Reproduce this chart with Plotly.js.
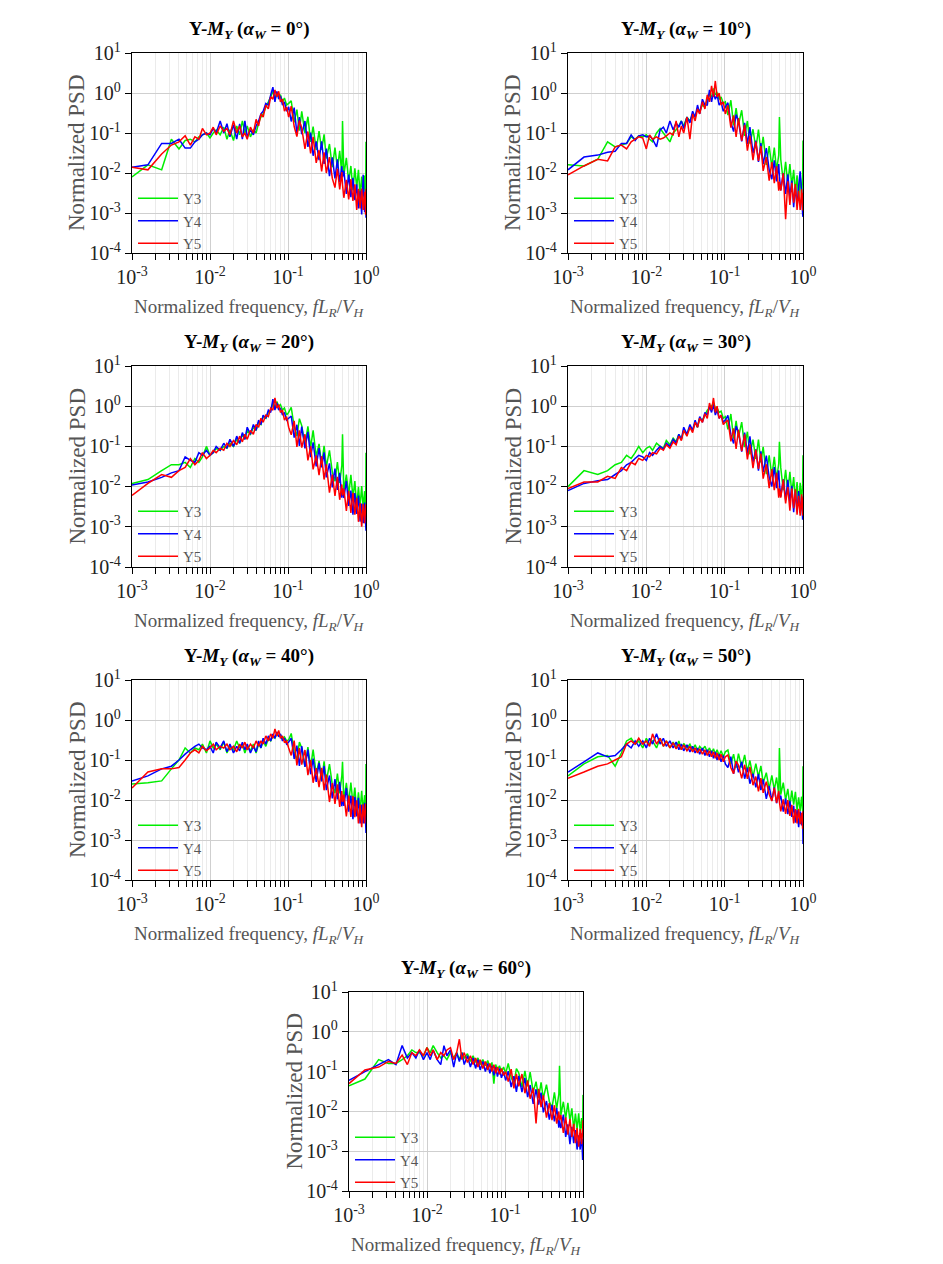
<!DOCTYPE html>
<html>
<head>
<meta charset="utf-8">
<script src="https://cdn.plot.ly/plotly-3.0.1.min.js"></script>
<style>html,body{margin:0;padding:0;background:#fff;}#chart{width:943px;height:1264px;}</style>
</head>
<body>
<div id="chart"></div>
<script>
// Normalized frequency fL_R/V_H (shared by all series)
const freq = [0.001,0.0016,0.0024,0.0032,0.004,0.0048,0.0056,0.0064,0.0072,0.008,0.009,0.010,0.011,0.012,0.0135,0.015,0.0165,0.018,0.020,0.022,0.024,0.026,0.028,0.030,0.033,0.036,0.039,0.042,0.045,0.048,0.052,0.056,0.060,0.064,0.068,0.072,0.076,0.080,0.085,0.090,0.096,0.102,0.11,0.12,0.13,0.14,0.15,0.165,0.18,0.195,0.21,0.23,0.25,0.27,0.29,0.31,0.34,0.37,0.40,0.43,0.46,0.49,0.50,0.52,0.56,0.60,0.64,0.68,0.72,0.76,0.80,0.84,0.88,0.92,0.96,0.99,1.0];

const seriesNames = ['Y3','Y4','Y5'];
const seriesColors = ['#00ee00','#0000ff','#ff0000'];
const windAngles = [0,10,20,30,40,50,60];

// alpha_W = 0
const y3_a0 = [0.008,0.016,0.012,0.07,0.04,0.065,0.07,0.06,0.08,0.09,0.1,0.075,0.1,0.12,0.09,0.14,0.07,0.12,0.065,0.15,0.09,0.2,0.1,0.15,0.08,0.12,0.1,0.18,0.25,0.3,0.45,0.6,0.8,1.1,0.7,1.0,0.8,0.9,0.6,0.75,0.5,0.55,
  0.64,0.185,0.385,0.115,0.35,0.099,0.255,0.06,0.144,0.038,0.112,0.038,0.093,0.023,0.053,0.014,0.043,0.013,0.036,0.0089,0.2,0.0089,0.024,0.006,0.015,0.0037,0.013,0.0043,0.012,0.0028,0.0081,0.0026,0.0086,0.0026,0.06];
const y4_a0 = [0.014,0.016,0.055,0.055,0.07,0.042,0.042,0.06,0.07,0.09,0.1,0.09,0.13,0.1,0.2,0.1,0.17,0.08,0.16,0.07,0.17,0.07,0.2,0.08,0.12,0.09,0.15,0.2,0.3,0.35,0.55,0.5,0.9,1.4,0.6,1.1,0.7,0.85,0.5,0.6,0.35,0.45,
  0.194,0.43,0.097,0.25,0.093,0.2,0.045,0.102,0.027,0.062,0.021,0.062,0.0168,0.041,0.0083,0.0245,0.0073,0.022,0.006,0.0148,0.0079,0.0115,0.003,0.0091,0.0025,0.0076,0.0021,0.0052,0.0013,0.0036,0.00092,0.009,0.00105,0.0031,0.00076];
const y5_a0 = [0.014,0.012,0.03,0.05,0.06,0.085,0.05,0.08,0.07,0.13,0.09,0.1,0.14,0.09,0.15,0.11,0.13,0.09,0.2,0.1,0.15,0.08,0.1,0.07,0.14,0.1,0.22,0.15,0.3,0.25,0.5,0.4,0.8,0.7,1.2,0.8,1.1,0.6,0.7,0.35,0.45,0.25,
  0.47,0.145,0.081,0.205,0.133,0.04,0.109,0.031,0.08,0.018,0.037,0.011,0.033,0.01,0.025,0.0073,0.0043,0.0128,0.0039,0.0105,0.005,0.0024,0.0067,0.0022,0.007,0.002,0.0052,0.0012,0.004,0.0013,0.0041,0.0012,0.0034,0.00091,0.004];

// alpha_W = 10
const y3_a10 = [0.016,0.015,0.022,0.06,0.045,0.05,0.055,0.08,0.07,0.085,0.08,0.09,0.07,0.06,0.1,0.13,0.1,0.08,0.06,0.1,0.12,0.15,0.2,0.15,0.25,0.2,0.3,0.25,0.4,0.35,0.5,0.45,0.7,0.9,0.8,1.3,0.9,1.0,0.7,0.8,0.55,0.6,
  0.28,0.66,0.155,0.42,0.16,0.37,0.085,0.2,0.054,0.124,0.041,0.122,0.033,0.08,0.016,0.047,0.014,0.043,0.0115,0.028,0.25,0.022,0.0061,0.019,0.0053,0.0167,0.0047,0.012,0.0031,0.0088,0.0023,0.0083,0.0027,0.0081,0.065];
const y4_a10 = [0.012,0.025,0.028,0.033,0.035,0.055,0.055,0.09,0.065,0.085,0.09,0.08,0.085,0.07,0.045,0.12,0.14,0.1,0.2,0.12,0.18,0.14,0.2,0.13,0.25,0.18,0.35,0.25,0.5,0.3,0.7,0.5,0.5,1.2,0.6,1.0,0.7,0.9,0.5,0.6,0.35,0.45,
  0.57,0.185,0.108,0.29,0.195,0.062,0.18,0.053,0.14,0.031,0.064,0.019,0.056,0.0167,0.042,0.012,0.007,0.0207,0.0062,0.0167,0.008,0.0037,0.0099,0.003,0.0093,0.0026,0.0065,0.0014,0.0046,0.0015,0.0047,0.011,0.0035,0.00092,0.0008];
const y5_a10 = [0.009,0.015,0.022,0.02,0.045,0.05,0.04,0.06,0.07,0.08,0.075,0.04,0.09,0.07,0.08,0.07,0.075,0.085,0.1,0.09,0.2,0.08,0.15,0.1,0.25,0.07,0.3,0.2,0.4,0.3,0.6,0.4,0.9,0.6,1.5,0.8,2.0,0.8,1.0,0.5,0.6,0.3,
  0.49,0.136,0.275,0.08,0.234,0.064,0.16,0.036,0.085,0.021,0.061,0.02,0.047,0.0113,0.025,0.0064,0.0188,0.0056,0.0148,0.0036,0.006,0.0036,0.0099,0.0007,0.0062,0.0016,0.0057,0.0018,0.0053,0.0012,0.0036,0.0012,0.0039,0.00115,0.0032];

// alpha_W = 20
const y3_a20 = [0.012,0.015,0.025,0.035,0.035,0.04,0.03,0.05,0.04,0.055,0.1,0.06,0.07,0.09,0.08,0.1,0.09,0.12,0.1,0.15,0.12,0.2,0.15,0.25,0.2,0.3,0.25,0.4,0.35,0.55,0.5,0.7,0.8,1.2,0.9,1.3,1.0,1.1,0.8,0.9,0.6,0.7,
  0.94,0.31,0.18,0.49,0.33,0.108,0.315,0.094,0.25,0.056,0.116,0.0345,0.104,0.031,0.08,0.023,0.0136,0.041,0.0123,0.0336,0.2,0.0074,0.02,0.0063,0.0195,0.0054,0.0137,0.0031,0.0099,0.0032,0.0103,0.003,0.0077,0.002,0.07];
const y4_a20 = [0.011,0.013,0.017,0.022,0.025,0.055,0.045,0.04,0.07,0.06,0.08,0.06,0.07,0.1,0.08,0.12,0.09,0.15,0.1,0.18,0.12,0.22,0.15,0.3,0.2,0.35,0.25,0.45,0.35,0.6,0.5,0.8,0.7,1.5,0.8,1.2,0.8,0.9,0.6,0.7,0.45,0.5,
  0.57,0.166,0.345,0.103,0.31,0.089,0.23,0.054,0.126,0.032,0.091,0.03,0.071,0.0169,0.038,0.0096,0.028,0.0083,0.022,0.0053,0.009,0.0052,0.0138,0.0033,0.008,0.002,0.0069,0.0021,0.006,0.00135,0.0038,0.00123,0.004,0.00116,0.0008];
const y5_a20 = [0.006,0.012,0.02,0.017,0.025,0.03,0.05,0.035,0.045,0.07,0.05,0.06,0.08,0.07,0.09,0.08,0.12,0.1,0.14,0.11,0.18,0.13,0.2,0.15,0.25,0.2,0.35,0.3,0.5,0.4,0.6,0.55,0.9,0.8,1.6,0.9,1.1,0.7,0.8,0.45,0.55,0.3,
  0.194,0.43,0.097,0.25,0.093,0.2,0.045,0.102,0.0267,0.06,0.0193,0.057,0.015,0.036,0.0071,0.02,0.0059,0.0176,0.0047,0.0113,0.006,0.0089,0.0025,0.0078,0.0022,0.007,0.002,0.0052,0.00133,0.0039,0.001,0.0037,0.00122,0.0036,0.003];

// alpha_W = 30
const y3_a30 = [0.01,0.025,0.02,0.025,0.035,0.04,0.06,0.05,0.07,0.1,0.07,0.09,0.1,0.08,0.12,0.1,0.09,0.14,0.11,0.16,0.13,0.2,0.15,0.25,0.2,0.3,0.25,0.4,0.3,0.5,0.45,0.6,0.8,0.9,1.0,1.2,0.9,0.9,0.7,0.75,0.5,0.55,
  0.266,0.64,0.155,0.43,0.168,0.4,0.096,0.232,0.063,0.147,0.049,0.148,0.04,0.098,0.0203,0.06,0.018,0.055,0.015,0.037,0.13,0.0296,0.0082,0.026,0.0073,0.0234,0.0067,0.0172,0.0044,0.0129,0.0034,0.0124,0.0041,0.0122,0.06];
const y4_a30 = [0.008,0.012,0.014,0.015,0.02,0.025,0.035,0.04,0.05,0.06,0.055,0.045,0.07,0.06,0.08,0.1,0.085,0.12,0.1,0.15,0.12,0.2,0.15,0.3,0.2,0.35,0.25,0.45,0.3,0.55,0.4,0.7,0.6,1.0,0.7,1.1,0.6,0.8,0.5,0.6,0.4,0.45,
  0.59,0.196,0.118,0.32,0.223,0.074,0.22,0.066,0.178,0.041,0.084,0.025,0.075,0.023,0.059,0.017,0.0101,0.0304,0.0092,0.0252,0.012,0.0056,0.0152,0.0047,0.0147,0.0041,0.0104,0.0023,0.0075,0.0024,0.0078,0.0022,0.0058,0.0015,0.002];
const y5_a30 = [0.009,0.013,0.013,0.018,0.016,0.03,0.025,0.04,0.035,0.05,0.045,0.06,0.055,0.07,0.065,0.09,0.08,0.11,0.09,0.13,0.11,0.18,0.14,0.25,0.18,0.3,0.22,0.4,0.3,0.5,0.4,0.65,0.5,1.2,0.8,1.6,0.7,1.0,0.5,0.6,0.35,0.4,
  0.45,0.134,0.28,0.086,0.26,0.076,0.2,0.0475,0.113,0.0287,0.083,0.0277,0.066,0.0158,0.036,0.0092,0.0273,0.0082,0.0219,0.0053,0.009,0.0053,0.015,0.0038,0.0097,0.0025,0.009,0.0029,0.0086,0.002,0.0059,0.0019,0.0064,0.0019,0.0054];

// alpha_W = 40
const y3_a40 = [0.025,0.027,0.03,0.06,0.1,0.2,0.15,0.2,0.18,0.25,0.15,0.3,0.2,0.25,0.18,0.28,0.15,0.22,0.18,0.3,0.2,0.25,0.15,0.22,0.17,0.25,0.15,0.25,0.2,0.3,0.22,0.35,0.3,0.4,0.35,0.45,0.4,0.42,0.35,0.38,0.3,0.32,
  0.46,0.159,0.099,0.28,0.2,0.068,0.21,0.066,0.183,0.044,0.095,0.0296,0.092,0.029,0.079,0.024,0.0148,0.046,0.0146,0.041,0.09,0.0094,0.0267,0.0085,0.0274,0.0079,0.0205,0.0047,0.0156,0.0051,0.017,0.005,0.0132,0.0036,0.08];
const y4_a40 = [0.03,0.04,0.06,0.07,0.1,0.14,0.18,0.22,0.25,0.2,0.18,0.22,0.15,0.28,0.2,0.3,0.16,0.25,0.15,0.22,0.17,0.28,0.18,0.25,0.15,0.22,0.16,0.3,0.2,0.35,0.25,0.4,0.3,0.45,0.35,0.5,0.38,0.45,0.3,0.35,0.25,0.28,
  0.35,0.106,0.23,0.071,0.223,0.067,0.181,0.044,0.108,0.0284,0.085,0.029,0.071,0.0176,0.041,0.011,0.0334,0.0103,0.0283,0.007,0.012,0.0071,0.02,0.0051,0.0129,0.0033,0.012,0.0039,0.0114,0.0026,0.0077,0.0026,0.0085,0.0025,0.0015];
const y5_a40 = [0.02,0.05,0.06,0.06,0.065,0.1,0.15,0.18,0.15,0.22,0.17,0.2,0.25,0.18,0.22,0.2,0.25,0.18,0.22,0.16,0.25,0.2,0.28,0.18,0.25,0.2,0.3,0.22,0.3,0.25,0.4,0.3,0.45,0.35,0.6,0.4,0.55,0.35,0.4,0.28,0.3,0.2,
  0.13,0.306,0.073,0.198,0.077,0.178,0.042,0.1,0.027,0.063,0.021,0.064,0.0175,0.043,0.0089,0.0266,0.008,0.0246,0.0067,0.0167,0.009,0.0136,0.0039,0.0129,0.0038,0.0125,0.0037,0.0098,0.0026,0.0077,0.0021,0.0078,0.0026,0.008,0.006];

// alpha_W = 50
const y3_a50 = [0.04,0.08,0.12,0.13,0.07,0.15,0.3,0.35,0.25,0.3,0.2,0.35,0.25,0.3,0.2,0.35,0.22,0.3,0.2,0.28,0.2,0.3,0.18,0.26,0.2,0.25,0.18,0.24,0.17,0.22,0.18,0.22,0.16,0.2,0.15,0.19,0.14,0.18,0.13,0.17,0.12,0.16,
  0.177,0.079,0.14,0.064,0.145,0.065,0.134,0.051,0.097,0.038,0.081,0.038,0.071,0.0267,0.048,0.019,0.041,0.018,0.0365,0.0137,0.2,0.0136,0.0273,0.0101,0.019,0.0071,0.0172,0.0077,0.0159,0.0056,0.0117,0.0053,0.0121,0.0051,0.07];
const y4_a50 = [0.05,0.09,0.15,0.12,0.13,0.18,0.25,0.2,0.3,0.22,0.3,0.2,0.35,0.25,0.45,0.25,0.35,0.22,0.3,0.2,0.28,0.18,0.25,0.17,0.24,0.16,0.22,0.15,0.2,0.14,0.2,0.13,0.18,0.12,0.17,0.11,0.16,0.1,0.14,0.09,0.13,0.08,
  0.065,0.121,0.045,0.094,0.049,0.091,0.034,0.064,0.0256,0.0455,0.0208,0.0447,0.0177,0.0329,0.0107,0.0226,0.0096,0.0208,0.0083,0.0155,0.01,0.0129,0.0051,0.0109,0.0044,0.0095,0.0038,0.0072,0.0027,0.0056,0.0021,0.0052,0.0023,0.0049,0.0008];
const y5_a50 = [0.035,0.05,0.07,0.08,0.1,0.12,0.25,0.3,0.25,0.35,0.25,0.3,0.22,0.45,0.25,0.35,0.22,0.3,0.2,0.27,0.19,0.25,0.18,0.24,0.17,0.22,0.16,0.2,0.15,0.19,0.14,0.18,0.13,0.17,0.12,0.16,0.11,0.15,0.1,0.14,0.09,0.12,
  0.134,0.064,0.0455,0.094,0.074,0.0347,0.076,0.0336,0.067,0.0235,0.0386,0.0164,0.035,0.0151,0.0288,0.0139,0.0094,0.02,0.0085,0.0169,0.009,0.0052,0.0104,0.0045,0.0099,0.004,0.0076,0.0026,0.0059,0.0026,0.006,0.0025,0.0048,0.0019,0.0053];

// alpha_W = 60
const y3_a60 = [0.044,0.065,0.2,0.16,0.16,0.2,0.25,0.35,0.3,0.3,0.25,0.4,0.3,0.45,0.3,0.22,0.25,0.2,0.3,0.22,0.3,0.2,0.3,0.22,0.28,0.18,0.25,0.17,0.22,0.15,0.2,0.14,0.19,0.13,0.17,0.05,0.15,0.11,0.14,0.1,0.13,0.09,
  0.16,0.071,0.05,0.118,0.093,0.041,0.104,0.0425,0.097,0.0306,0.056,0.0219,0.054,0.0214,0.047,0.018,0.0121,0.03,0.0118,0.027,0.14,0.008,0.0175,0.0067,0.0163,0.0058,0.0119,0.0035,0.0088,0.0035,0.0089,0.0032,0.0068,0.0023,0.026];
const y4_a60 = [0.06,0.1,0.15,0.2,0.15,0.45,0.22,0.3,0.22,0.35,0.2,0.3,0.2,0.35,0.2,0.15,0.45,0.25,0.35,0.13,0.3,0.18,0.3,0.15,0.25,0.13,0.22,0.12,0.2,0.11,0.18,0.1,0.16,0.09,0.14,0.08,0.13,0.075,0.12,0.07,0.1,0.06,
  0.103,0.041,0.077,0.031,0.078,0.0305,0.069,0.0228,0.046,0.0154,0.036,0.0149,0.0298,0.0095,0.0182,0.0062,0.0146,0.0056,0.0122,0.0039,0.006,0.0038,0.0083,0.0023,0.0047,0.0015,0.0041,0.0016,0.0034,0.0011,0.0025,0.0011,0.0028,0.0006,0.002];
const y5_a60 = [0.05,0.11,0.13,0.18,0.16,0.26,0.15,0.3,0.25,0.35,0.25,0.4,0.25,0.35,0.2,0.3,0.25,0.35,0.4,0.2,0.3,0.65,0.2,0.3,0.17,0.25,0.15,0.22,0.13,0.2,0.12,0.18,0.11,0.16,0.1,0.15,0.09,0.13,0.085,0.12,0.08,0.1,
  0.056,0.115,0.038,0.088,0.0425,0.087,0.0286,0.06,0.0208,0.039,0.005,0.037,0.0128,0.0256,0.007,0.0162,0.006,0.0143,0.0049,0.0099,0.006,0.0081,0.0029,0.0071,0.0026,0.0064,0.0023,0.0049,0.0016,0.0038,0.0013,0.0036,0.0015,0.0035,0.006];

const panelSeries = [
  [y3_a0, y4_a0, y5_a0],
  [y3_a10, y4_a10, y5_a10],
  [y3_a20, y4_a20, y5_a20],
  [y3_a30, y4_a30, y5_a30],
  [y3_a40, y4_a40, y5_a40],
  [y3_a50, y4_a50, y5_a50],
  [y3_a60, y4_a60, y5_a60]
];

const xTickVals = [0.001,0.01,0.1,1];
const xTickText = ['10<sup>-3</sup>','10<sup>-2</sup>','10<sup>-1</sup>','10<sup>0</sup>'];
const yTickVals = [0.0001,0.001,0.01,0.1,1,10];
const yTickText = ['10<sup>-4</sup>','10<sup>-3</sup>','10<sup>-2</sup>','10<sup>-1</sup>','10<sup>0</sup>','10<sup>1</sup>'];

// layout boxes in pixels [left, right, top, bottom]
const W = 943, H = 1264;
const boxes = [[132,366,53,253],[568,803,53,253],[132,366,366,567],[568,803,366,567],[132,366,680,880],[568,803,680,880],[349,583,992,1191]];
const FONT = 'Liberation Serif';

const data = [];
const layout = {
  width: W, height: H, margin: {l:0, r:0, t:0, b:0},
  paper_bgcolor: '#fff', plot_bgcolor: '#fff',
  font: {family: FONT, color: '#222'},
  annotations: [], showlegend: true
};

boxes.forEach((b, i) => {
  const sfx = i === 0 ? '' : String(i + 1);
  const [l, r, t, bt] = b;
  const xd = [l / W, r / W];
  const yd = [1 - bt / H, 1 - t / H];
  const legName = 'legend' + sfx;
  panelSeries[i].forEach((ys, k) => {
    data.push({
      type: 'scatter', mode: 'lines', x: freq, y: ys,
      name: seriesNames[k], xaxis: 'x' + sfx, yaxis: 'y' + sfx,
      line: {color: seriesColors[k], width: 1.5, simplify: false},
      legend: legName, showlegend: true, hoverinfo: 'skip'
    });
  });
  layout['xaxis' + sfx] = {
    type: 'log', range: [-3, 0], domain: xd, anchor: 'y' + sfx,
    tickmode: 'array', tickvals: xTickVals, ticktext: xTickText,
    ticks: 'outside', ticklen: 6, tickwidth: 1, tickcolor: '#000',
    showline: true, linecolor: '#000', linewidth: 1.2, mirror: true,
    showgrid: true, gridcolor: '#cfcfcf', gridwidth: 1, zeroline: false,
    minor: {dtick: 'D1', ticks: 'outside', ticklen: 6, tickwidth: 1, tickcolor: '#000', showgrid: true, gridcolor: '#ebebeb', gridwidth: 1},
    tickfont: {family: FONT, size: 20, color: '#222'}
  };
  layout['yaxis' + sfx] = {
    type: 'log', range: [-4, 1], domain: yd, anchor: 'x' + sfx,
    tickmode: 'array', tickvals: yTickVals, ticktext: yTickText,
    ticks: 'outside', ticklen: 6, tickwidth: 1, tickcolor: '#000',
    showline: true, linecolor: '#000', linewidth: 1.2, mirror: true,
    showgrid: true, gridcolor: '#cfcfcf', gridwidth: 1, zeroline: false,
    tickfont: {family: FONT, size: 20, color: '#222'}
  };
  layout[legName] = {
    x: (l + 1) / W, y: 1 - (t + 129) / H, xanchor: 'left', yanchor: 'top',
    bgcolor: 'rgba(0,0,0,0)', borderwidth: 0,
    font: {family: FONT, size: 15, color: '#555'},
    tracegroupgap: 0, itemwidth: 40
  };
  const cx = (l + r) / 2 / W;
  layout.annotations.push({
    xref: 'paper', yref: 'paper', x: cx, y: 1 - (t - 23) / H, xanchor: 'center', yanchor: 'middle',
    text: '<b>Y-<i>M<sub>Y</sub></i> (<i>α<sub>W</sub></i> = ' + windAngles[i] + '°)</b>',
    showarrow: false, font: {family: FONT, size: 19, color: '#000'}
  });
  layout.annotations.push({
    xref: 'paper', yref: 'paper', x: cx, y: 1 - (bt + 55) / H, xanchor: 'center', yanchor: 'middle',
    text: 'Normalized frequency, <i>fL<sub>R</sub></i>/<i>V<sub>H</sub></i>',
    showarrow: false, font: {family: FONT, size: 19, color: '#555'}
  });
  layout.annotations.push({
    xref: 'paper', yref: 'paper', x: (l - 55) / W, y: 1 - (t + bt) / 2 / H, xanchor: 'center', yanchor: 'middle',
    text: 'Normalized PSD', textangle: -90,
    showarrow: false, font: {family: FONT, size: 23, color: '#555'}
  });
});

Plotly.newPlot('chart', data, layout, {staticPlot: true, displayModeBar: false});
</script>
</body>
</html>
